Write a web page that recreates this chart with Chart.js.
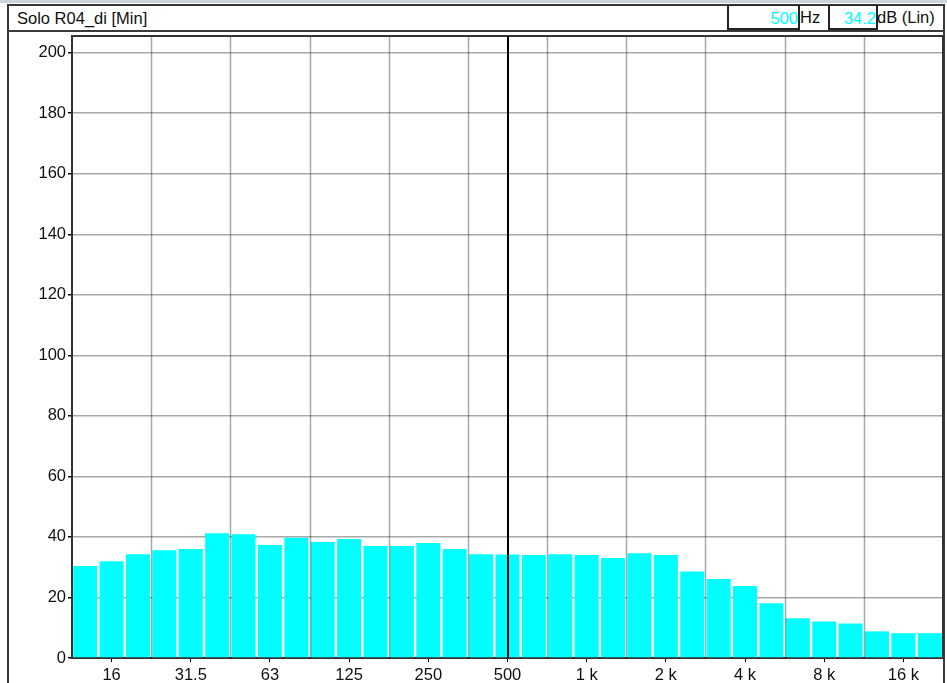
<!DOCTYPE html>
<html>
<head>
<meta charset="utf-8">
<script src="https://cdn.jsdelivr.net/npm/chart.js@4.4.1/dist/chart.umd.min.js"></script>
<style>
  html, body { margin: 0; padding: 0; background: #fff; }
  body { width: 947px; height: 683px; position: relative; overflow: hidden;
         font-family: "Liberation Sans", Arial, Helvetica, sans-serif; color: #111; }
  #strip { position: absolute; left: 0; top: 0; width: 947px; height: 3px; background: #cdd3db; }
  #frame { position: absolute; left: 7px; top: 4px; width: 938px; height: 700px;
           box-sizing: border-box; border: 2px solid #3a3a3a; border-bottom: none; }
  #titlebar { position: absolute; left: 7px; top: 4px; width: 938px; height: 28px;
              box-sizing: border-box; border-bottom: 2px solid #3a3a3a; }
  #title { position: absolute; left: 10px; top: 5px; font-size: 16.5px; white-space: nowrap; }
  .box { position: absolute; top: 1px; height: 25px; box-sizing: border-box;
         border: 2px solid #222; border-top-width: 1px; }
  .val { position: absolute; right: 0; top: 3px; font-size: 16.5px; color: #00ffff; white-space: nowrap; }
  .unit { position: absolute; top: 4px; font-size: 16.5px; white-space: nowrap; }
  #chart { position: absolute; left: 0; top: 0; }
</style>
</head>
<body>
<div id="strip"></div>
<div id="frame"></div>
<div id="titlebar">
  <div id="title">Solo R04_di [Min]</div>
  <div class="box" style="left:720px;width:73px;"><span class="val" id="cursorFreq"></span></div>
  <div class="unit" style="left:793px;">Hz</div>
  <div class="box" style="left:821px;width:50px;"><span class="val" id="cursorLevel"></span></div>
  <div class="unit" style="left:870px;">dB (Lin)</div>
</div>
<canvas id="chart" width="947" height="683"></canvas>
<script>
// Third-octave band centre frequencies (Hz)
const bands = ['12.5','16','20','25','31.5','40','50','63','80','100','125','160','200','250','315',
  '400','500','630','800','1 k','1.25 k','1.6 k','2 k','2.5 k','3.15 k','4 k','5 k','6.3 k','8 k',
  '10 k','12.5 k','16 k','20 k'];

// Minimum level per band, dB (Lin)
const levels = [30.4, 32.0, 34.3, 35.6, 36.0, 41.2, 40.9, 37.3, 39.7, 38.3, 39.3, 37.0, 37.0, 38.0, 36.0,
  34.3, 34.2, 34.0, 34.3, 34.0, 33.0, 34.6, 34.0, 28.6, 26.1, 23.8, 18.1, 13.1, 12.1, 11.4, 8.8, 8.2, 8.2];

// Octave labels printed under the axis
const octaveLabels = ['16','31.5','63','125','250','500','1 k','2 k','4 k','8 k','16 k'];

// Level axis ticks
const levelTicks = [0, 20, 40, 60, 80, 100, 120, 140, 160, 180, 200];

// Cursor position
const cursorBand = '500';

const cursorIdx = bands.indexOf(cursorBand);
document.getElementById('cursorFreq').textContent = cursorBand;
document.getElementById('cursorLevel').textContent = levels[cursorIdx].toFixed(1);

const font = { family: '"Liberation Sans", Arial, Helvetica, sans-serif', size: 16.5 };
const gridColor = 'rgba(0,0,0,0.34)';

// Octave-boundary grid lines, plot frame and the cursor line
const overlay = {
  id: 'overlay',
  afterDatasetsDraw(chart) {
    const { ctx, chartArea: a, scales: { x } } = chart;
    ctx.save();
    ctx.strokeStyle = gridColor;
    ctx.lineWidth = 1.5;
    for (let k = 3; k < bands.length; k += 3) {
      const px = Math.round((x.getPixelForValue(k - 1) + x.getPixelForValue(k)) / 2) + 0.5;
      ctx.beginPath();
      ctx.moveTo(px, a.top);
      ctx.lineTo(px, a.bottom);
      ctx.stroke();
    }
    ctx.strokeStyle = '#333';
    ctx.lineWidth = 2;
    ctx.beginPath();
    ctx.moveTo(a.left, a.top);
    ctx.lineTo(a.right, a.top);
    ctx.lineTo(a.right, a.bottom);
    ctx.stroke();
    const cx = Math.round(x.getPixelForValue(cursorIdx));
    ctx.strokeStyle = '#000';
    ctx.lineWidth = 2;
    ctx.beginPath();
    ctx.moveTo(cx, a.top);
    ctx.lineTo(cx, a.bottom);
    ctx.stroke();
    ctx.restore();
  }
};

new Chart(document.getElementById('chart'), {
  type: 'bar',
  data: {
    labels: bands,
    datasets: [{
      data: levels,
      backgroundColor: '#00ffff',
      borderWidth: 0,
      barPercentage: 0.91,
      categoryPercentage: 1.0
    }]
  },
  options: {
    responsive: false,
    animation: false,
    events: [],
    layout: { padding: { left: 0, top: 36, right: 4, bottom: 0 } },
    plugins: { legend: { display: false }, tooltip: { enabled: false } },
    scales: {
      x: {
        z: 1,
        offset: true,
        afterFit(s) { s.height = 25; },
        border: { color: '#333', width: 2 },
        grid: {
          offset: false,
          drawOnChartArea: false,
          tickLength: 4,
          tickColor: c => octaveLabels.includes(bands[c.index]) ? '#000' : 'rgba(0,0,0,0)'
        },
        ticks: {
          autoSkip: false,
          maxRotation: 0,
          padding: 4,
          color: '#111',
          font,
          callback: (v, i) => octaveLabels.includes(bands[i]) ? bands[i] : ''
        }
      },
      y: {
        z: 1,
        min: 0,
        max: 205.5,
        afterFit(s) { s.width = 72; },
        afterBuildTicks(s) { s.ticks = levelTicks.map(v => ({ value: v })); },
        border: { color: '#333', width: 2 },
        grid: { color: gridColor, lineWidth: 1.5, tickColor: '#000', tickLength: 4 },
        ticks: { padding: 2, color: '#111', font }
      }
    }
  },
  plugins: [overlay]
});
</script>
</body>
</html>
